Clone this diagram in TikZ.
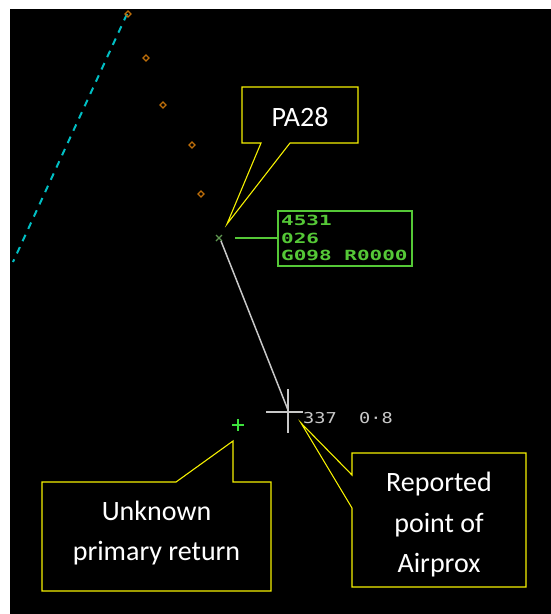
\documentclass[tikz,border=0pt]{standalone}
\usepackage{fontspec}
\usepackage{graphicx}
\usetikzlibrary{calc}
\setmainfont{Carlito}
\newfontfamily\radarfont{DejaVu Sans Mono}
\definecolor{callyellow}{RGB}{245,240,0}
\definecolor{dbgreen}{RGB}{85,200,55}
\definecolor{plusgreen}{RGB}{60,225,60}
\definecolor{xgreen}{RGB}{95,150,80}
\definecolor{historange}{RGB}{190,110,10}
\definecolor{routecyan}{RGB}{0,190,195}
\definecolor{trackgrey}{RGB}{200,200,200}
\tikzset{
  callout/.style={fill=black,draw=callyellow,line width=1.1pt,line join=miter},
  calltext/.style={text=white,font=\fontsize{28}{34}\selectfont,anchor=base,inner sep=0pt},
  dbtext/.style={text=dbgreen,font=\radarfont\bfseries\fontsize{14}{17}\selectfont,anchor=base west,inner sep=0pt},
  rngtext/.style={text=trackgrey,font=\radarfont\fontsize{15}{17}\selectfont,anchor=base west,inner sep=0pt},
  histdot/.style={draw=historange,line width=1.3pt},
}
\begin{document}
\begin{tikzpicture}[x=1pt,y=-1pt]
\useasboundingbox (0,0) rectangle (551,614);
\fill[white] (0,0) rectangle (551,614);
\fill[black] (10,9) rectangle (551,614);
% route line
\coordinate (r0) at (127,14);
\coordinate (r1) at (13,262);
\draw[routecyan,line width=2pt,dash pattern=on 7pt off 6.5pt] (r0) -- (r1);
% history dots
\foreach \px/\py [count=\i] in {128/14,146/58,163/105,192/145,201/194}{
  \draw[histdot] (\px,\py-3) -- (\px+3,\py) -- (\px,\py+3) -- (\px-3,\py) -- cycle;
}
% PA28 symbol
\coordinate (pa28) at (219,238);
\draw[xgreen,line width=1.2pt] ($(pa28)+(-3,-3)$) -- ($(pa28)+(3,3)$) ($(pa28)+(-3,3)$) -- ($(pa28)+(3,-3)$);
% track line to reported point
\coordinate (trk0) at (221,241);
\coordinate (rp) at (288,410);
\draw[trackgrey,line width=1.5pt] (trk0) -- (rp);
% cross
\coordinate (cx) at (288,412);
\draw[trackgrey,line width=1.5pt] ($(cx)+(-22,0)$) -- ($(cx)+(15,0)$) ($(cx)+(0,-23)$) -- ($(cx)+(0,21)$);
\node[rngtext] (rng) at (303,423) {\scalebox{1.24}[1]{337\ \ 0·8}};
% datablock
\node[draw=dbgreen,line width=1.8pt,minimum width=134pt,minimum height=55pt,inner sep=0pt] (db) at (345,238.5) {};
\coordinate (ldr) at (235,238);
\draw[dbgreen,line width=2pt] (ldr) -- (db.west |- ldr);
\node[dbtext] (l1) at (281,225) {\scalebox{1.5}[1]{4531}};
\node[dbtext] (l2) at (281,243) {\scalebox{1.5}[1]{026}};
\node[dbtext] (l3) at (281,260) {\scalebox{1.5}[1]{G098 R0000}};
% unknown primary return
\coordinate (upr) at (238,425);
\draw[plusgreen,line width=1.5pt] ($(upr)+(-6,0)$) -- ($(upr)+(6,0)$) ($(upr)+(0,-6)$) -- ($(upr)+(0,6)$);
% callout PA28
\draw[callout] (242,87) -- (358,87) -- (358,143) -- (290,143) -- (227,224) -- (261,143) -- (242,143) -- cycle;
\node[calltext] (tpa) at (300,126) {PA28};
% callout unknown
\draw[callout] (42,482) -- (176,482) -- (233,441) -- (233,482) -- (271,482) -- (271,591) -- (42,591) -- cycle;
\node[calltext] (tu1) at (156.5,520) {Unknown};
\node[calltext] (tu2) at (156.5,560) {primary return};
% callout reported
\draw[callout] (352,453) -- (526,453) -- (526,587) -- (352,587) -- (352,508) -- (301,423) -- (352,475) -- cycle;
\node[calltext] (tr1) at (439,491) {Reported};
\node[calltext] (tr2) at (439,532) {point of};
\node[calltext] (tr3) at (439,572) {Airprox};
\end{tikzpicture}
\end{document}
